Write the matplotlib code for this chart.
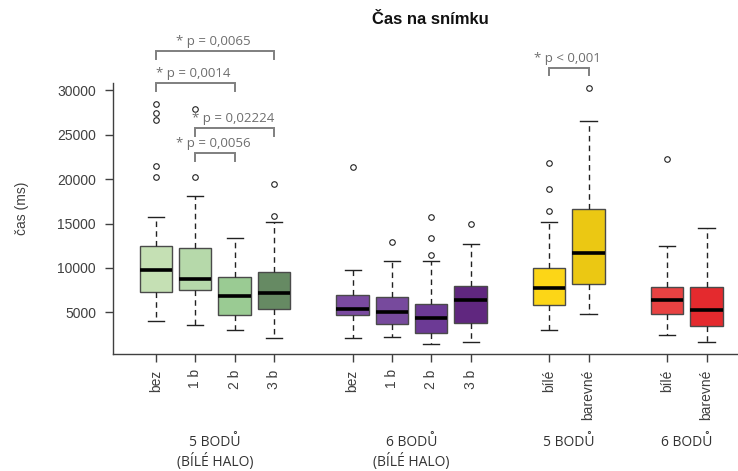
import matplotlib
matplotlib.use('Agg')
import matplotlib.pyplot as plt
from matplotlib.transforms import blended_transform_factory

# box positions and tick labels (4 + 4 + 2 + 2 groups, one empty slot between groups)
positions = [1, 2, 3, 4, 6, 7, 8, 9, 11, 12, 14, 15]
tick_labels = ['bez', '1 b', '2 b', '3 b', 'bez', '1 b', '2 b', '3 b',
               'bílé', 'barevné', 'bílé', 'barevné']
colors = ['#c5e0b4', '#b6d9aa', '#9acb93', '#668a63',
          '#7a4aa0', '#774a9d', '#6c3a95', '#60277f',
          '#fcd617', '#ebc813', '#e84242', '#e42a2e']

# five-number summaries read per box (ms)
whislo = [3990, 3580, 3060, 2160, 2160, 2240, 1480, 1710, 3020, 4820, 2490, 1710]
q1 = [7330, 7520, 4660, 5420, 4660, 3650, 2690, 3760, 5790, 8190, 4850, 3500]
med = [9720, 8790, 6800, 7210, 5340, 5000, 4330, 6430, 7700, 11740, 6430, 5300]
q3 = [12420, 12300, 8980, 9540, 6910, 6730, 5980, 8000, 9990, 16620, 7880, 7880]
whishi = [15720, 18150, 13430, 15230, 9720, 10810, 10810, 12690, 15230, 26540, 12420, 14520]
fliers = [[28480, 27400, 26650, 21450, 20250],
          [27850, 20250],
          [],
          [15900, 19460],
          [21380],
          [12870],
          [11480, 13320, 15750],
          [14930],
          [16460, 18870, 21850],
          [30250],
          [22270],
          []]

# significance brackets: left pos, right pos, bracket height, text
brackets = [(1, 4, 34400, '* p = 0,0065'),
            (1, 3, 30780, '* p = 0,0014'),
            (2, 4, 25720, '* p = 0,02224'),
            (2, 3, 22910, '* p = 0,0056'),
            (11, 12, 32530, '* p < 0,001')]

groups = [(2.5, '5 BODŮ\n(BÍLÉ HALO)'), (7.5, '6 BODŮ\n(BÍLÉ HALO)'),
          (11.5, '5 BODŮ'), (14.5, '6 BODŮ')]

W, H = 738, 471
fig = plt.figure(figsize=(W / 100, H / 100), dpi=100)
ax = fig.add_axes([112.7 / W, 117 / H, (W - 112.7) / W, 271 / H])

stats = []
for i in range(len(positions)):
    stats.append({'whislo': whislo[i], 'q1': q1[i], 'med': med[i], 'q3': q3[i],
                  'whishi': whishi[i], 'fliers': fliers[i]})

bp = ax.bxp(stats, positions=positions, widths=0.82, patch_artist=True,
            boxprops=dict(edgecolor='#4a4a4a', linewidth=1.0),
            medianprops=dict(color='black', linewidth=2.6),
            whiskerprops=dict(color='#222222', linewidth=1.0, linestyle=(0, (4, 3))),
            capprops=dict(color='#222222', linewidth=1.0),
            flierprops=dict(marker='o', markersize=4.0, markerfacecolor='none',
                            markeredgecolor='#222222', markeredgewidth=0.8),
            capwidths=0.41)
for patch, c in zip(bp['boxes'], colors):
    patch.set_facecolor(c)

ax.set_xlim(-0.10, 15.80)
ax.set_ylim(326, 30810)
ax.set_yticks([5000, 10000, 15000, 20000, 25000, 30000])
ax.set_yticklabels(['5000', '10000', '15000', '20000', '25000', '30000'],
                   fontsize=10, color='#404040', family='Liberation Sans')
ax.set_xticks(positions)
ax.set_xticklabels(tick_labels, rotation=90, fontsize=10, color='#404040',
                   family='Liberation Sans')
ax.tick_params(axis='both', length=6, width=1.0, color='#404040')
ax.tick_params(axis='y', pad=6)
ax.tick_params(axis='x', pad=5)
for s in ['top', 'right']:
    ax.spines[s].set_visible(False)
for s in ['left', 'bottom']:
    ax.spines[s].set_color('#404040')
    ax.spines[s].set_linewidth(1.0)

# brackets above the boxes
drop = 850
for x0, x1, y, txt in brackets:
    ax.plot([x0, x0, x1, x1], [y - drop, y, y, y - drop], color='#7f7f7f',
            linewidth=1.4, clip_on=False, solid_joinstyle='miter')
    ax.text((x0 + x1) / 2 - 0.05, y + 350, txt, ha='center', va='bottom',
            fontsize=9.5, color='#6e6e6e', family='Open Sans', clip_on=False)

# group captions under the tick labels
tr = blended_transform_factory(ax.transData, fig.transFigure)
for x, txt in groups:
    ax.text(x, (H - 435) / H, txt, transform=tr, ha='center', va='top',
            fontsize=10, color='#333333', family='Open Sans', linespacing=1.2)

fig.text(430 / W, (H - 20) / H, 'Čas na snímku', ha='center', va='center',
         fontsize=12, fontweight='bold', family='Liberation Sans', color='#111111')
fig.text(22 / W, (H - 208) / H, 'čas (ms)', rotation=90, ha='center', va='center',
         fontsize=10, color='#404040', family='Liberation Sans')

fig.savefig('out.png', dpi=100)
